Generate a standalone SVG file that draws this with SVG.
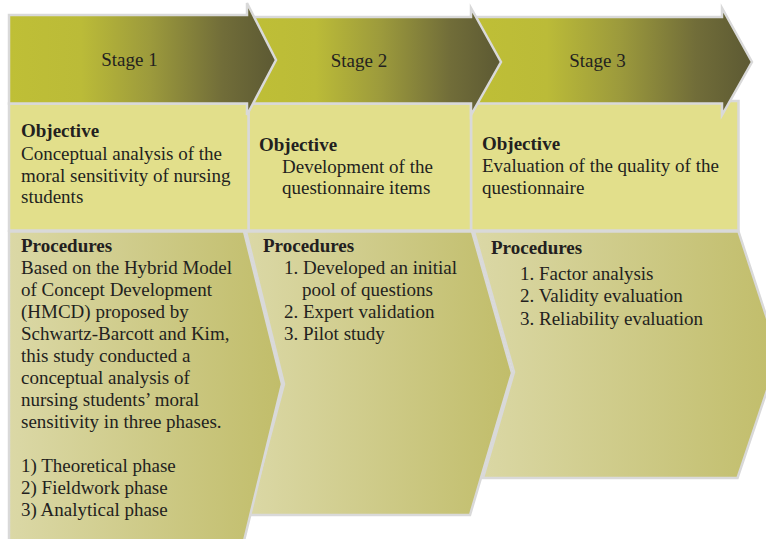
<svg xmlns="http://www.w3.org/2000/svg" width="766" height="539" viewBox="0 0 766 539">
  <defs>
    <linearGradient id="headFill" x1="0" y1="0" x2="1" y2="0">
      <stop offset="0" stop-color="#bfbf36"/>
      <stop offset="0.27" stop-color="#bbbb38"/>
      <stop offset="0.53" stop-color="#9c9a3c"/>
      <stop offset="0.8" stop-color="#716d39"/>
      <stop offset="1" stop-color="#5c5933"/>
    </linearGradient>
    <linearGradient id="procFill" x1="0" y1="0" x2="1" y2="0">
      <stop offset="0" stop-color="#dbd8a6"/>
      <stop offset="1" stop-color="#c1bd6a"/>
    </linearGradient>
    <style>
      .head { fill: url(#headFill); stroke: #d9d9d9; stroke-width: 2.5; stroke-linejoin: miter; }
      .obj  { fill: #e2df8b; stroke: #d9d9d9; stroke-width: 2.5; }
      .proc { fill: url(#procFill); stroke: #d9d9d9; stroke-width: 2.5; stroke-linejoin: miter; }
      text { font-family: "Liberation Serif", "Times New Roman", serif; font-size: 19px; fill: #231f20; }
      .stage { text-anchor: middle; }
      .bold { font-weight: bold; }
    </style>
  </defs>

  <rect width="766" height="539" fill="#ffffff"/>

  <!-- Stage 3 (drawn first so the stage 2 arrow sits on top) -->
  <g id="stage3">
    <g id="stage3-procedures">
      <polygon class="proc" points="474,231.5 738.5,231.5 779,355 737.5,478 483,478 514,372"/>
      <text x="491" y="254" class="bold">Procedures</text>
      <text x="520" y="280">1. Factor analysis</text>
      <text x="520" y="302">2. Validity evaluation</text>
      <text x="520" y="324.5">3. Reliability evaluation</text>
    </g>
    <g id="stage3-objective">
      <rect class="obj" x="471" y="101" width="267.5" height="129.5"/>
      <text x="482" y="150" class="bold">Objective</text>
      <text x="482" y="172">Evaluation of the quality of the</text>
      <text x="482" y="194">questionnaire</text>
    </g>
    <g id="stage3-header">
      <polygon class="head" points="471,17 722,17 722,8 752,62 722,115 722,103.5 471,103.5"/>
      <text x="597.5" y="67" class="stage">Stage 3</text>
    </g>
  </g>

  <!-- Stage 2 -->
  <g id="stage2">
    <g id="stage2-procedures">
      <polygon class="proc" points="246,231.5 472,231.5 512,373 470,515 249,515 284,384"/>
      <text x="263" y="252" class="bold">Procedures</text>
      <text x="284" y="274">1. Developed an initial</text>
      <text x="302" y="296">pool of questions</text>
      <text x="284" y="318">2. Expert validation</text>
      <text x="284" y="340">3. Pilot study</text>
    </g>
    <g id="stage2-objective">
      <rect class="obj" x="248.5" y="103.5" width="222.5" height="127"/>
      <text x="259" y="151" class="bold">Objective</text>
      <text x="282" y="172.5">Development of the</text>
      <text x="282" y="194">questionnaire items</text>
    </g>
    <g id="stage2-header">
      <polygon class="head" points="247,17 471,17 471,8 501,62 471,115 471,103.5 247,103.5"/>
      <text x="359" y="67" class="stage">Stage 2</text>
    </g>
  </g>

  <!-- Stage 1 -->
  <g id="stage1">
    <g id="stage1-procedures">
      <polygon class="proc" points="9,231.5 244,231.5 282,384 243,545 9,545"/>
      <text x="21" y="252" class="bold">Procedures</text>
      <text x="21" y="274">Based on the Hybrid Model</text>
      <text x="21" y="296">of Concept Development</text>
      <text x="21" y="318">(HMCD) proposed by</text>
      <text x="21" y="340">Schwartz-Barcott and Kim,</text>
      <text x="21" y="362">this study conducted a</text>
      <text x="21" y="384">conceptual analysis of</text>
      <text x="21" y="406">nursing students’ moral</text>
      <text x="21" y="428">sensitivity in three phases.</text>
      <text x="21" y="472">1) Theoretical phase</text>
      <text x="21" y="494">2) Fieldwork phase</text>
      <text x="21" y="516">3) Analytical phase</text>
    </g>
    <g id="stage1-objective">
      <rect class="obj" x="9" y="103.5" width="239.5" height="127"/>
      <text x="21" y="137" class="bold">Objective</text>
      <text x="21" y="159.5">Conceptual analysis of the</text>
      <text x="21" y="181.5">moral sensitivity of nursing</text>
      <text x="21" y="203">students</text>
    </g>
    <g id="stage1-header">
      <polygon class="head" points="9,15 247,15 247,3 276,60 247,115 247,103.5 9,103.5"/>
      <text x="129.5" y="66" class="stage">Stage 1</text>
    </g>
  </g>

  <!-- no connectors: the chevrons themselves carry the flow -->
  <g id="connectors"/>
</svg>
